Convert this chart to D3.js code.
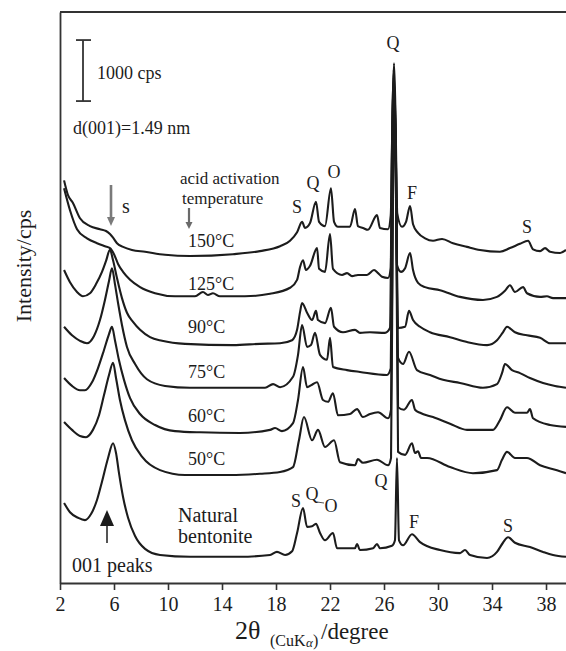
<!DOCTYPE html>
<html><head><meta charset="utf-8">
<script src="https://cdn.jsdelivr.net/npm/d3@7"></script>
<style>html,body{margin:0;padding:0;background:#fff;} svg{display:block;} text{font-family:"Liberation Serif","Times New Roman",serif;}</style>
</head><body><svg id="c" width="566" height="651"></svg>
<script>
// ---- data (2θ in degrees, stacked intensity in cps) ----
const xTicks = [2, 6, 10, 14, 18, 22, 26, 30, 34, 38];
const sampleNames = ["150°C", "125°C", "90°C", "75°C", "60°C", "50°C"];
const naturalName = ["Natural", "bentonite"];
const peaksTop = ["S", "Q", "O", "Q", "F", "S"];
const peaksBottom = ["S", "Q", "O", "Q", "F", "S"];

const trace150 = [[2.30,6600],[2.59,6360],[2.96,6230],[3.48,5980],[4.22,5850],[4.96,5800],[5.41,5770],[5.70,5720],[5.93,5660],[6.22,5570],[6.67,5510],[7.33,5460],[8.30,5430],[9.78,5380],[11.63,5360],[14.81,5390],[16.81,5440],[18.30,5520],[19.04,5610],[19.56,5750],[19.93,5920],[20.15,5820],[20.52,5900],[20.96,6250],[21.19,5920],[21.63,5850],[22.07,6470],[22.30,5920],[22.59,5840],[23.48,5840],[23.85,6130],[24.07,5850],[24.44,5820],[24.81,5790],[25.48,6030],[25.70,5820],[26.30,5800],[26.50,6030],[26.64,7800],[26.74,8520],[26.84,7800],[26.98,6060],[27.33,5840],[27.63,5920],[27.93,6180],[28.15,5880],[28.52,5740],[29.04,5650],[29.63,5610],[30.30,5640],[31.11,5570],[32.15,5510],[33.11,5460],[34.59,5430],[35.33,5490],[36.07,5560],[36.67,5610],[37.04,5470],[37.56,5440],[37.93,5490],[38.30,5430],[39.04,5410],[39.48,5460]];

const trace125 = [[2.30,6470],[2.74,6110],[3.26,5800],[4.00,5650],[4.74,5570],[5.33,5520],[5.70,5490],[6.00,5390],[6.30,5230],[6.67,5100],[7.19,4970],[7.93,4850],[9.04,4750],[10.52,4700],[12.00,4700],[12.59,4770],[12.96,4720],[13.33,4750],[13.85,4700],[15.70,4700],[17.56,4740],[19.04,4840],[19.56,4970],[19.78,5180],[20.00,5290],[20.22,5130],[20.52,5200],[21.04,5490],[21.19,5150],[21.63,5100],[22.00,5720],[22.22,5150],[22.89,5050],[23.26,5080],[23.63,5030],[24.07,5050],[24.74,5050],[25.26,5130],[25.56,5080],[25.85,5020],[26.30,5000],[26.50,5160],[26.62,7600],[26.72,8410],[26.82,7600],[26.96,5210],[27.26,5100],[27.56,5160],[27.93,5410],[28.15,5130],[28.52,4920],[29.04,4850],[30.15,4800],[31.63,4690],[33.33,4640],[34.37,4690],[34.96,4790],[35.33,4880],[35.70,4770],[36.30,4850],[36.59,4750],[37.56,4690],[38.07,4700],[38.52,4670],[39.48,4670]];

const trace90 = [[2.30,5130],[2.74,4930],[3.26,4770],[3.70,4700],[4.22,4750],[4.67,4900],[5.11,5100],[5.41,5280],[5.70,5460],[5.93,5290],[6.22,5000],[6.59,4670],[6.96,4430],[7.41,4280],[7.93,4150],[8.67,4030],[9.56,3970],[11.26,3920],[14.81,3900],[16.81,3920],[18.30,3930],[19.19,3980],[19.56,4150],[19.78,4440],[19.93,4590],[20.30,4430],[20.67,4310],[20.96,4460],[21.11,4310],[21.63,4260],[22.07,4510],[22.30,4200],[22.96,4110],[23.85,4150],[24.22,4100],[24.96,4110],[26.07,4100],[26.44,4180],[26.60,7300],[26.72,8280],[26.86,7300],[27.04,4180],[27.56,4200],[27.85,4460],[28.15,4310],[28.67,4200],[29.41,4110],[30.89,4030],[32.15,3950],[33.63,3900],[34.37,3980],[34.81,4110],[35.11,4200],[35.70,4110],[36.59,4060],[37.56,4020],[38.30,3930],[39.48,3930]];

const trace75 = [[2.30,4200],[2.89,4060],[3.48,3970],[4.00,3930],[4.52,4050],[4.96,4310],[5.33,4640],[5.63,4950],[5.85,5160],[6.07,4900],[6.30,4590],[6.59,4230],[6.96,3870],[7.56,3590],[8.44,3340],[9.78,3230],[11.63,3200],[14.81,3200],[17.19,3200],[17.78,3260],[18.30,3210],[19.26,3380],[19.63,3740],[19.93,4230],[20.30,3870],[20.59,3900],[20.89,4100],[21.26,3740],[21.78,3660],[22.00,4020],[22.22,3540],[23.26,3490],[24.22,3460],[26.22,3410],[26.50,3520],[26.64,7000],[26.76,8110],[26.88,7000],[27.04,3690],[27.41,3590],[27.85,3790],[28.44,3490],[29.41,3410],[30.37,3330],[31.63,3280],[33.33,3200],[34.37,3260],[34.74,3440],[34.96,3590],[35.48,3490],[36.07,3440],[36.81,3360],[37.78,3280],[38.67,3230],[39.48,3200]];

const trace60 = [[2.30,3360],[2.89,3230],[3.48,3160],[3.85,3160],[4.37,3290],[4.81,3520],[5.26,3820],[5.63,4080],[5.85,4200],[6.07,3980],[6.37,3650],[6.74,3330],[7.19,3030],[7.93,2770],[9.04,2590],[10.52,2490],[12.37,2470],[15.33,2460],[17.56,2510],[17.93,2540],[18.44,2490],[19.26,2620],[19.63,3000],[20.00,3540],[20.30,3210],[20.67,3250],[21.04,3290],[21.48,3000],[21.85,2970],[22.22,3110],[22.59,2750],[23.48,2770],[24.00,2850],[24.44,2720],[24.96,2770],[25.56,2800],[26.30,2700],[26.52,2840],[26.66,6600],[26.78,7920],[26.90,6600],[27.04,2880],[27.48,2840],[28.07,3000],[28.30,2840],[28.67,2790],[29.63,2720],[30.89,2610],[32.15,2510],[34.07,2510],[34.59,2670],[35.11,2880],[35.70,2790],[36.59,2790],[36.81,2850],[37.04,2700],[38.30,2590],[39.48,2560]];

const trace50 = [[2.30,2640],[2.89,2510],[3.48,2410],[3.93,2390],[4.44,2510],[4.89,2750],[5.26,3080],[5.63,3410],[5.93,3610],[6.15,3360],[6.44,3000],[6.81,2670],[7.33,2340],[8.07,2070],[9.41,1850],[11.26,1770],[14.59,1770],[16.81,1790],[18.30,1820],[19.26,1900],[19.70,2340],[20.07,2720],[20.67,2340],[21.11,2510],[21.63,2230],[22.30,2340],[22.74,1980],[23.85,1930],[24.07,2030],[24.44,1970],[25.48,2020],[26.30,1930],[26.52,2050],[26.66,6200],[26.78,7670],[26.90,6200],[27.04,2150],[27.56,2100],[28.07,2290],[28.30,2130],[28.52,2160],[28.74,2050],[29.19,2050],[30.89,1900],[32.59,1800],[34.37,1850],[34.74,2020],[35.11,2150],[35.70,2050],[36.59,2050],[37.56,1930],[38.81,1850],[39.48,1800]];

const traceNatural = [[2.30,1310],[2.74,1160],[3.33,1070],[3.85,1030],[4.30,1130],[4.74,1360],[5.11,1660],[5.56,2050],[5.93,2290],[6.15,2130],[6.37,1800],[6.67,1410],[7.04,1070],[7.56,770],[8.30,560],[9.41,460],[11.63,430],[15.33,430],[17.56,460],[18.07,510],[18.67,460],[19.19,520],[19.56,820],[20.00,1230],[20.30,920],[20.67,930],[20.96,970],[21.26,820],[21.63,700],[22.22,820],[22.52,570],[23.85,570],[24.00,640],[24.22,540],[25.19,570],[25.48,640],[25.70,570],[26.59,610],[26.81,700],[26.96,2050],[27.11,700],[27.41,620],[28.07,800],[28.67,670],[30.15,540],[31.63,490],[32.00,540],[32.37,460],[33.63,410],[34.37,510],[34.81,660],[35.19,750],[35.70,660],[36.81,590],[37.78,510],[38.52,460],[39.48,430]];

const traces = [trace150, trace125, trace90, trace75, trace60, trace50, traceNatural];
const scaleBarCps = 1000;

// ---- drawing ----
const svg = d3.select("#c");
const x = d3.scaleLinear().domain([2, 39.48]).range([60, 566]);
const y = d3.scaleLinear().domain([0, 9360]).range([583, 12]);
const ink = "#1c1c1c";
const serif = "Liberation Serif";

// frame: left and top lines
svg.append("g").attr("transform", "translate(60,0)")
  .call(d3.axisLeft(y).tickValues([]).tickSizeOuter(0))
  .call(g => g.select(".domain").attr("stroke", "#333").attr("stroke-width", 1.8));
svg.append("line").attr("x1", 60).attr("x2", 566).attr("y1", 12).attr("y2", 12)
  .attr("stroke", "#333").attr("stroke-width", 1.8);

// x axis
const xa = svg.append("g").attr("transform", "translate(0,583)")
  .call(d3.axisBottom(x).tickValues(xTicks).tickSize(7).tickSizeOuter(0).tickPadding(7));
xa.select(".domain").attr("stroke", "#333").attr("stroke-width", 1.8);
xa.selectAll(".tick line").attr("stroke", "#333").attr("stroke-width", 1.6);
xa.selectAll(".tick text").attr("font-family", serif).attr("font-size", 20).attr("fill", ink);

// traces
const line = d3.line().x(d => x(d[0])).y(d => y(d[1])).curve(d3.curveMonotoneX);
svg.append("g").selectAll("path").data(traces).join("path")
  .attr("d", line).attr("fill", "none").attr("stroke", ink)
  .attr("stroke-width", 2.1).attr("stroke-linejoin", "round");

// scale bar
const sbTop = y(8900), sbBot = y(8900 - scaleBarCps);
svg.append("line").attr("x1", 83).attr("x2", 83).attr("y1", sbTop).attr("y2", sbBot).attr("stroke", "#333").attr("stroke-width", 1.8);
[sbTop, sbBot].forEach(v => svg.append("line").attr("x1", 76).attr("x2", 91).attr("y1", v).attr("y2", v).attr("stroke", "#333").attr("stroke-width", 1.8));

function txt(s, px, py, size, anchor) {
  return svg.append("text").attr("x", px).attr("y", py).attr("font-size", size)
    .attr("font-family", serif).attr("fill", ink).attr("text-anchor", anchor || "start").text(s);
}
txt(scaleBarCps + " cps", 97, 79, 18);
txt("d(001)=1.49 nm", 73, 134, 18);
txt("acid activation", 180, 184, 17);
txt("temperature", 182, 204, 17);

// gray arrows
function arrow(px, y1, y2, col, w, hw, hl) {
  svg.append("line").attr("x1", px).attr("x2", px).attr("y1", y1).attr("y2", y2 - hl + 1)
    .attr("stroke", col).attr("stroke-width", w);
  svg.append("path").attr("d", `M${px - hw},${y2 - hl}L${px + hw},${y2 - hl}L${px},${y2}Z`).attr("fill", col);
}
arrow(111, 185, 226, "#7a7a7a", 2.6, 4, 9);
arrow(189, 208, 229, "#6a6a6a", 2.2, 3.5, 7);
txt("s", 122, 213, 20);

// sample labels
const labelY = [247, 290, 333, 378, 422, 465];
sampleNames.forEach((s, i) => txt(s, 188, labelY[i], 18));
txt(naturalName[0], 178, 522, 20);
txt(naturalName[1], 178, 543, 20);
txt("001 peaks", 72, 572, 20);

// black arrow for 001 peaks
svg.append("line").attr("x1", 107).attr("x2", 107).attr("y1", 524).attr("y2", 543).attr("stroke", ink).attr("stroke-width", 1.5);
svg.append("path").attr("d", "M100,526L114,526L107,510Z").attr("fill", ink);

// peak labels
const topPos = [[297,213],[313,189],[334,178],[393,49],[412,199],[527,233]];
peaksTop.forEach((s, i) => txt(s, topPos[i][0], topPos[i][1], 18, "middle"));
const botPos = [[296,507],[312,500],[331,512],[381,487],[414,528],[508,532]];
peaksBottom.forEach((s, i) => txt(s, botPos[i][0], botPos[i][1], 18, "middle"));
svg.append("line").attr("x1", 317).attr("x2", 324).attr("y1", 502).attr("y2", 503).attr("stroke", "#555").attr("stroke-width", 1);

// y label
svg.append("text").attr("transform", "translate(31,266) rotate(-90)").attr("text-anchor", "middle")
  .attr("font-family", serif).attr("font-size", 22).attr("fill", ink).text("Intensity/cps");

// x title
const xt = svg.append("text").attr("y", 639).attr("fill", ink).attr("font-family", serif);
xt.append("tspan").attr("x", 235).attr("font-size", 26).text("2θ");
xt.append("tspan").attr("x", 270).attr("y", 646).attr("font-size", 16).text("(CuK");
xt.append("tspan").attr("x", 306).attr("y", 647).attr("font-size", 13).attr("font-style", "italic").text("α");
xt.append("tspan").attr("x", 313).attr("y", 646).attr("font-size", 16).text(")");
xt.append("tspan").attr("x", 321).attr("y", 639).attr("font-size", 23).text("/degree");
</script></body></html>
